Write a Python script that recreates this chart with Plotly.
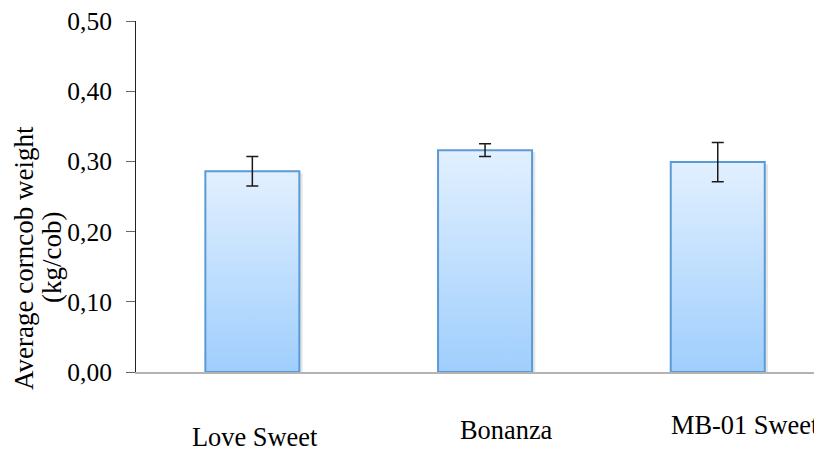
import plotly.graph_objects as go

# ---- data ----
categories = ["Love Sweet", "Bonanza", "MB-01 Sweet"]
weights = [0.286, 0.316, 0.299]          # average corncob weight (kg/cob)
errors = [0.021, 0.009, 0.028]           # error bar half-length
y_ticks = [0.0, 0.1, 0.2, 0.3, 0.4, 0.5]
y_title_lines = ["Average corncob weight", "(kg/cob)"]

# ---- style / layout constants ----
FONT = "Liberation Serif, Times New Roman, serif"
FS = 25.5
LABEL_FS = 26.4
TITLE_FS = 27
BAR_HALF = 0.202
label_pos = [(0.1735, -0.185), (0.5394, -0.165), (0.8875, -0.150)]   # paper coords of category labels
title_pos = [(-0.1633, 0.325), (-0.1224, 0.325)]

fig = go.Figure()
for i, (cat, v) in enumerate(zip(categories, weights)):
    # soft shadow
    fig.add_trace(go.Scatter(
        x=[i - BAR_HALF + 0.006, i + BAR_HALF + 0.014, i + BAR_HALF + 0.014, i - BAR_HALF + 0.006],
        y=[0, 0, v - 0.003, v - 0.003],
        fill="toself", fillcolor="rgba(0,0,0,0.10)", line=dict(width=0),
        mode="lines", hoverinfo="skip", showlegend=False))
    # bar with vertical gradient
    fig.add_trace(go.Scatter(
        x=[i - BAR_HALF, i - BAR_HALF, i + BAR_HALF, i + BAR_HALF, i - BAR_HALF],
        y=[0, v, v, 0, 0],
        fill="toself",
        fillgradient=dict(type="vertical", colorscale=[[0, "#9fcefd"], [1, "#e2f0ff"]]),
        line=dict(color="#5b9bd5", width=2),
        mode="lines", name=cat, showlegend=False))

# error bars
fig.add_trace(go.Scatter(
    x=list(range(len(categories))), y=weights, mode="markers",
    marker=dict(size=2, opacity=0),
    error_y=dict(type="data", array=errors, color="#1a1a1a", thickness=1.5, width=6),
    hoverinfo="skip", showlegend=False))

annotations = []
for cat, (px, py) in zip(categories, label_pos):
    annotations.append(dict(text=cat, xref="paper", yref="paper", x=px, y=py,
                            xanchor="center", yanchor="middle", showarrow=False,
                            font=dict(family=FONT, size=LABEL_FS, color="black")))
for line, (px, py) in zip(y_title_lines, title_pos):
    annotations.append(dict(text=line, xref="paper", yref="paper", x=px, y=py,
                            xanchor="center", yanchor="middle", showarrow=False,
                            textangle=-90,
                            font=dict(family=FONT, size=TITLE_FS, color="black")))

# the page adds an 8px body margin, so the figure is drawn 8px smaller
fig.update_layout(
    width=814, height=442,
    margin=dict(l=128, r=0, t=13, b=78),
    paper_bgcolor="white", plot_bgcolor="white",
    separators=",.",
    font=dict(family=FONT, size=FS, color="black"),
    showlegend=False,
    annotations=annotations,
    xaxis=dict(range=[-0.5, 2.448], showgrid=False, zeroline=False,
               showticklabels=False, ticks="", showline=True,
               linecolor="#b3b3b3", linewidth=1.5, fixedrange=True),
    yaxis=dict(range=[0, 0.5], tickvals=y_ticks, tickformat=".2f",
               showgrid=False, zeroline=False, showline=True,
               linecolor="#222222", linewidth=1, ticks="outside",
               ticklen=9, tickcolor="#666666", tickwidth=1,
               ticklabelstandoff=9, ticklabeloverflow="allow",
               tickfont=dict(family=FONT, size=FS, color="black")),
)

fig.write_html("out.html")
